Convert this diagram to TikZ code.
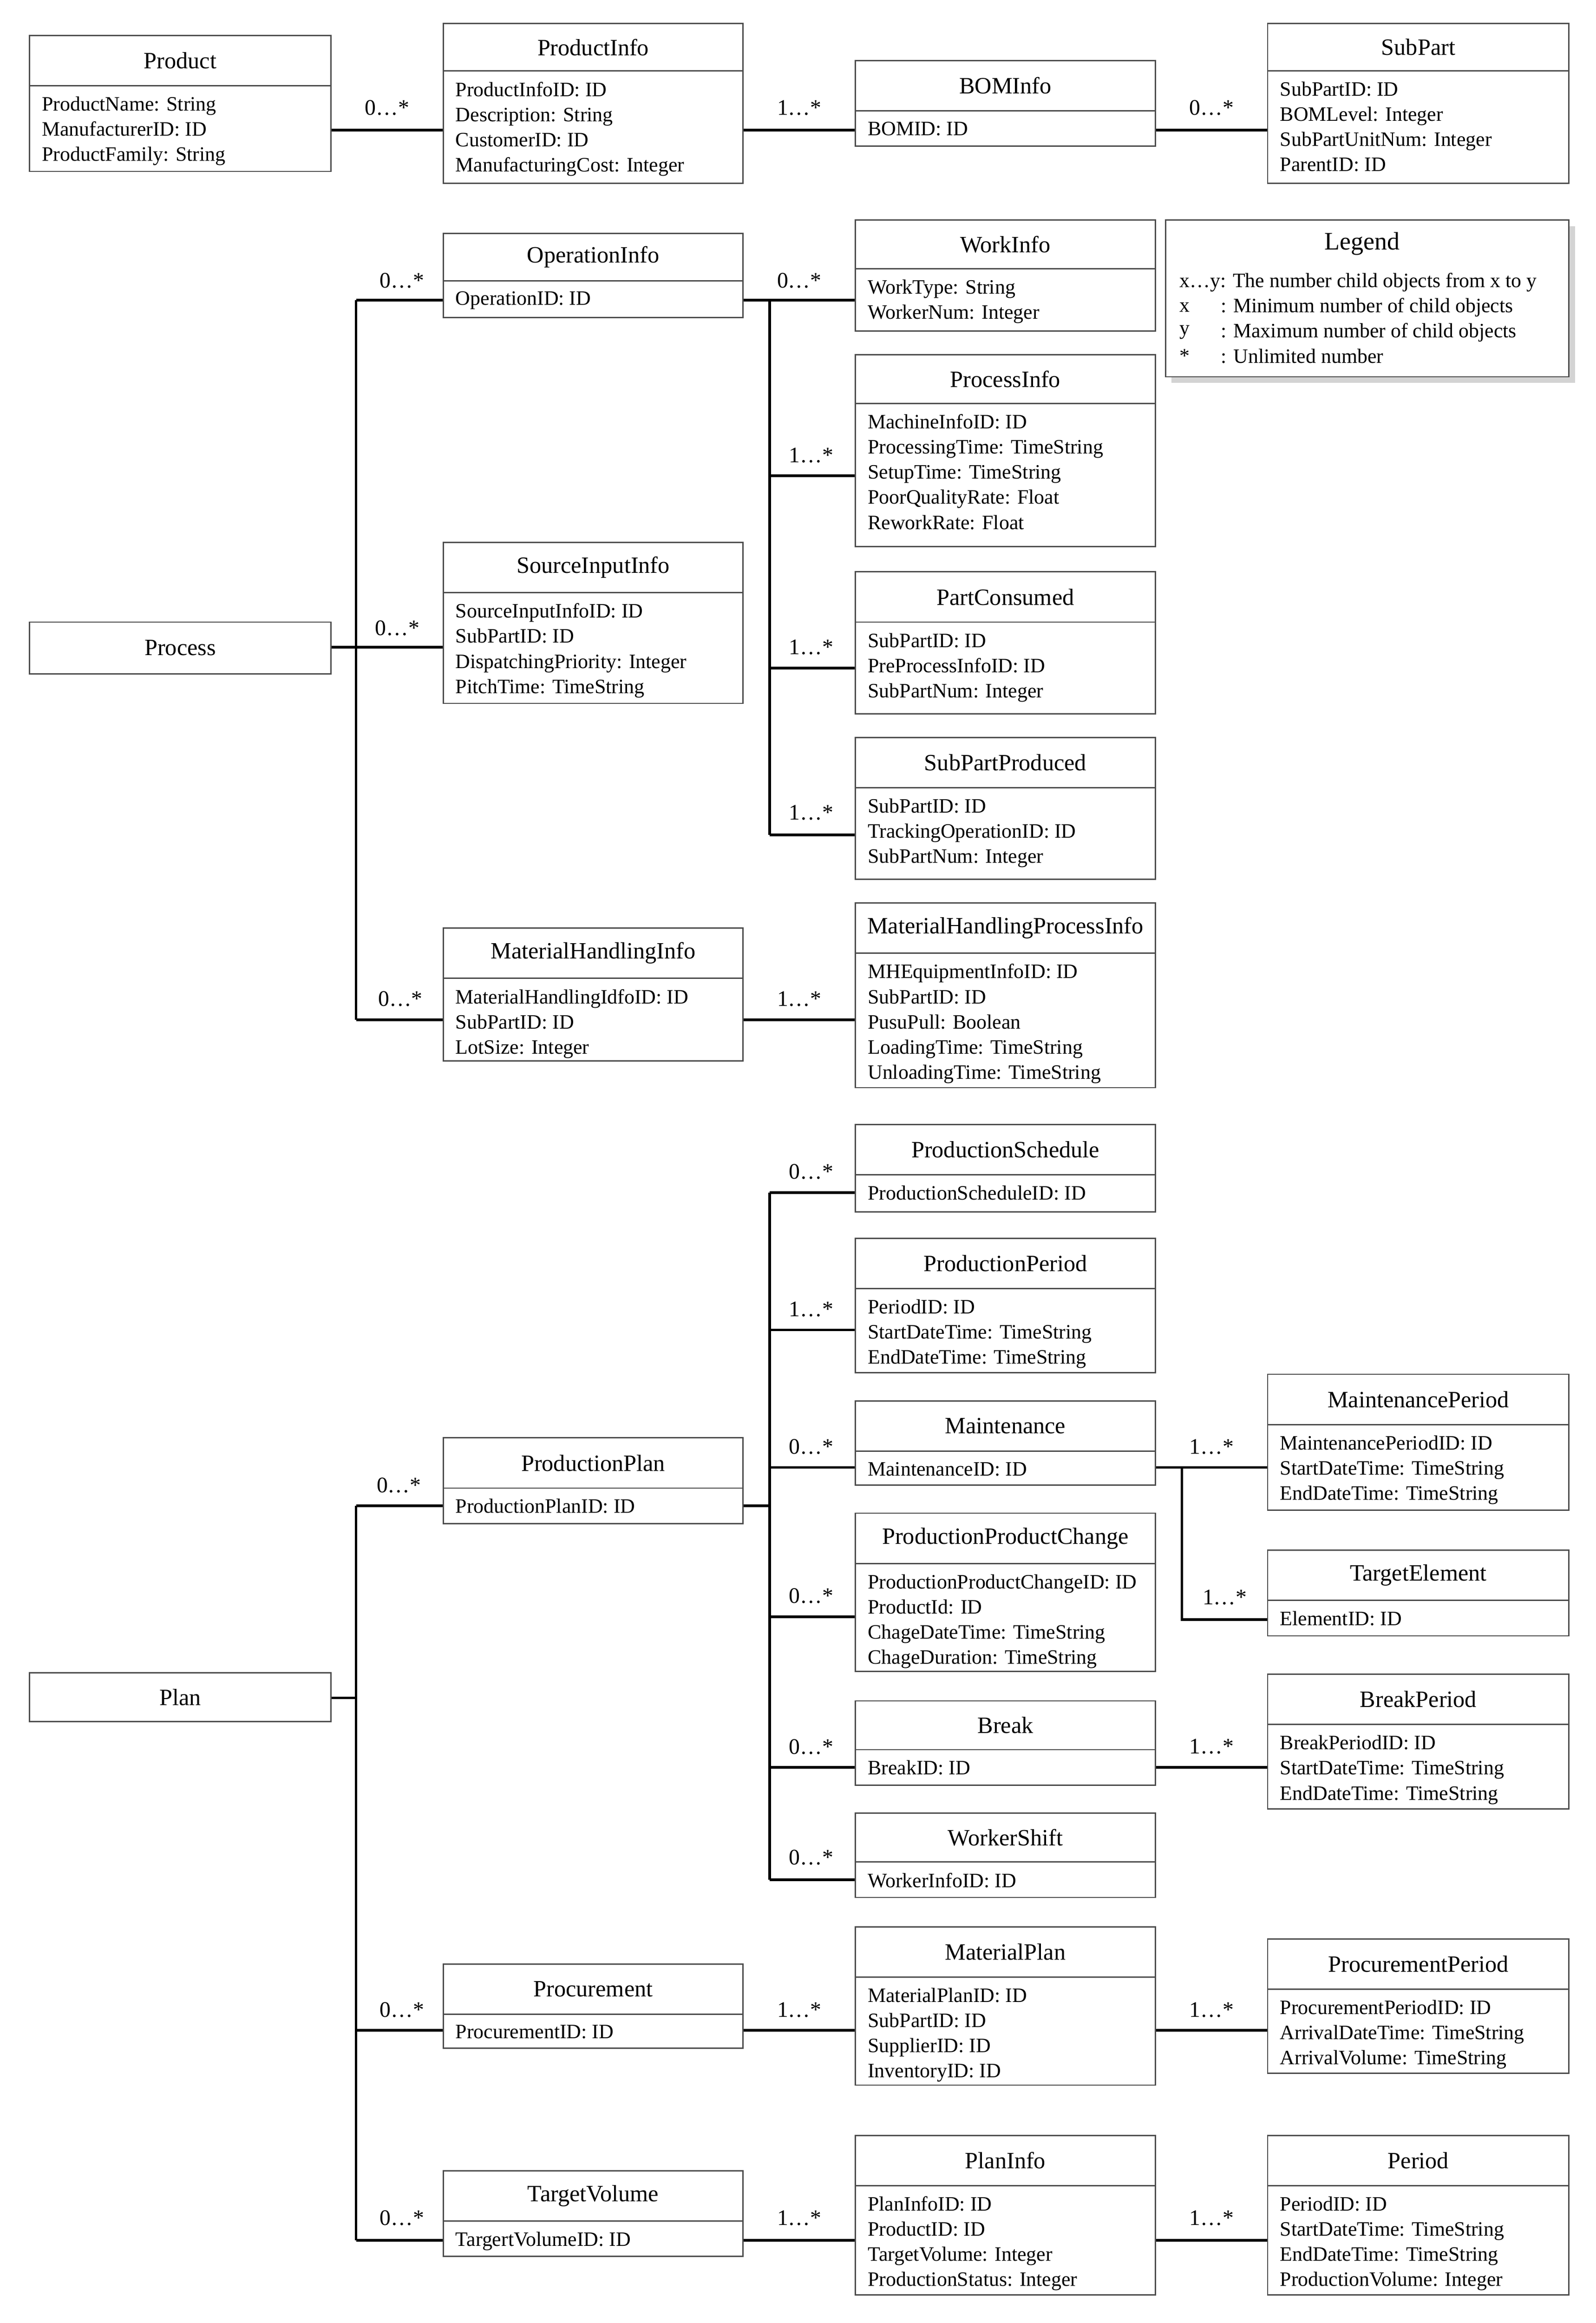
\documentclass[tikz,border=0pt]{standalone}
\usepackage{fontspec}
\setmainfont{Liberation Serif}
\usetikzlibrary{shadows}
\tikzset{
 cbox/.style={draw=black!70,line width=0.45pt,inner sep=0pt,fill=white},
 ttl/.style={font=\fontsize{7.9}{9}\selectfont,inner sep=0pt},
 att/.style={font=\fontsize{6.9}{8.5}\selectfont,align=left,inner sep=0pt},
 conn/.style={line width=0.9pt},
 lab/.style={font=\fontsize{7.5}{9}\selectfont,inner sep=0pt},
 sep/.style={line width=0.45pt,draw=black!70}
}
\newcommand\cls[8]{%
 \node[cbox, minimum width={(#4-#2)*0.5}, minimum height={(#6-#3)*0.5}] (#1) at ({(#2+#4)/2},{-(#3+#6)/2}) {};
 \draw[sep] (#2,-#5) -- (#4,-#5);
 \node[ttl] (#1-t) at ({(#2+#4)/2},{-(#3+#5)/2}) {#7};
 \node[att,anchor=north west] (#1-a) at (#2+8,-#5-7) {#8};
}
\begin{document}
\begin{tikzpicture}[x=0.5pt,y=0.5pt]
\useasboundingbox (0,0) rectangle (1080,-1572);
% top row
\cls{Product}{20}{24}{224}{58}{116}{Product}{ProductName: String\\ManufacturerID: ID\\ProductFamily: String}
\cls{ProductInfo}{300}{16}{503}{48}{124}{ProductInfo}{ProductInfoID: ID\\Description: String\\CustomerID: ID\\ManufacturingCost: Integer}
\cls{BOMInfo}{579}{41}{782}{75}{99}{BOMInfo}{BOMID: ID}
\cls{SubPart}{858}{16}{1062}{48}{124}{SubPart}{SubPartID: ID\\BOMLevel: Integer\\SubPartUnitNum: Integer\\ParentID: ID}
\coordinate (r1) at (0,-88);
\draw[conn] (Product.east |- r1) -- (ProductInfo.west |- r1);
\draw[conn] (ProductInfo.east |- r1) -- (BOMInfo.west |- r1);
\draw[conn] (BOMInfo.east |- r1) -- (SubPart.west |- r1);
\node[lab] (l1) at (262,-73) {0\ldots*};
\node[lab] (l2) at (541,-73) {1\ldots*};
\node[lab] (l3) at (820,-73) {0\ldots*};
% legend
\node[cbox,drop shadow={shadow xshift=2pt,shadow yshift=-2pt,opacity=0.35}, minimum width={273*0.5}, minimum height={106*0.5}] (Legend) at (925.5,-202) {};
\node[ttl,font=\fontsize{8.5}{10}\selectfont] (Legend-t) at (922,-165) {Legend};
\node[att,anchor=west] (lg1) at (798,-191) {x\ldots y: The number child objects from x to y};
\node[att,anchor=west] (lg2a) at (798,-208) {x};
\node[att,anchor=west] (lg2) at (826,-208) {: Minimum number of child objects};
\node[att,anchor=west] (lg3a) at (798,-225) {y};
\node[att,anchor=west] (lg3) at (826,-225) {: Maximum number of child objects};
\node[att,anchor=west] (lg4a) at (798,-241) {*};
\node[att,anchor=west] (lg4) at (826,-241) {: Unlimited number};
% process
\node[cbox,minimum width={204*0.5},minimum height={35*0.5}] (Process) at (122,-438.5) {};
\node[ttl] (Process-t) at (122,-438.5) {Process};
\cls{OperationInfo}{300}{158}{503}{190}{215}{OperationInfo}{OperationID: ID}
\cls{WorkInfo}{579}{149}{782}{182}{224}{WorkInfo}{WorkType: String\\WorkerNum: Integer}
\cls{ProcessInfo}{579}{240}{782}{273}{370}{ProcessInfo}{MachineInfoID: ID\\ProcessingTime: TimeString\\SetupTime: TimeString\\PoorQualityRate: Float\\ReworkRate: Float}
\cls{SourceInputInfo}{300}{367}{503}{401}{476}{SourceInputInfo}{SourceInputInfoID: ID\\SubPartID: ID\\DispatchingPriority: Integer\\PitchTime: TimeString}
\cls{PartConsumed}{579}{387}{782}{421}{483}{PartConsumed}{SubPartID: ID\\PreProcessInfoID: ID\\SubPartNum: Integer}
\cls{SubPartProduced}{579}{499}{782}{533}{595}{SubPartProduced}{SubPartID: ID\\TrackingOperationID: ID\\SubPartNum: Integer}
\cls{MHI}{300}{628}{503}{662}{718}{MaterialHandlingInfo}{MaterialHandlingIdfoID: ID\\SubPartID: ID\\LotSize: Integer}
\cls{MHPI}{579}{611}{782}{645}{736}{MaterialHandlingProcessInfo}{MHEquipmentInfoID: ID\\SubPartID: ID\\PusuPull: Boolean\\LoadingTime: TimeString\\UnloadingTime: TimeString}
\coordinate (pa) at (241,-203); \coordinate (pb) at (241,-438); \coordinate (pc) at (241,-690);
\draw[conn] (Process.east |- pb) -- (pb);
\draw[conn] (pa) -- (pc);
\draw[conn] (pa) -- (pa -| OperationInfo.west);
\draw[conn] (pb) -- (pb -| SourceInputInfo.west);
\draw[conn] (pc) -- (pc -| MHI.west);
\node[lab] (l4) at (272,-190) {0\ldots*};
\node[lab] (l5) at (269,-425) {0\ldots*};
\node[lab] (l6) at (271,-676) {0\ldots*};
\coordinate (oa) at (521,-203); \coordinate (ob) at (521,-322); \coordinate (oc) at (521,-452); \coordinate (od) at (521,-565);
\draw[conn] (OperationInfo.east |- oa) -- (oa);
\draw[conn] (oa) -- (od);
\draw[conn] (oa) -- (oa -| WorkInfo.west);
\draw[conn] (ob) -- (ob -| ProcessInfo.west);
\draw[conn] (oc) -- (oc -| PartConsumed.west);
\draw[conn] (od) -- (od -| SubPartProduced.west);
\node[lab] (l7) at (541,-190) {0\ldots*};
\node[lab] (l8) at (549,-308) {1\ldots*};
\node[lab] (l9) at (549,-438) {1\ldots*};
\node[lab] (l10) at (549,-550) {1\ldots*};
\draw[conn] (MHI.east |- pc) -- (MHPI.west |- pc);
\node[lab] (l11) at (541,-676) {1\ldots*};
% plan
\node[cbox,minimum width={204*0.5},minimum height={33*0.5}] (Plan) at (122,-1148.5) {};
\node[ttl] (Plan-t) at (122,-1148.5) {Plan};
\cls{ProductionPlan}{300}{973}{503}{1007}{1031}{ProductionPlan}{ProductionPlanID: ID}
\cls{Procurement}{300}{1329}{503}{1363}{1386}{Procurement}{ProcurementID: ID}
\cls{TargetVolume}{300}{1469}{503}{1503}{1527}{TargetVolume}{TargertVolumeID: ID}
\cls{ProductionSchedule}{579}{761}{782}{795}{820}{ProductionSchedule}{ProductionScheduleID: ID}
\cls{ProductionPeriod}{579}{838}{782}{872}{929}{ProductionPeriod}{PeriodID: ID\\StartDateTime: TimeString\\EndDateTime: TimeString}
\cls{Maintenance}{579}{948}{782}{982}{1005}{Maintenance}{MaintenanceID: ID}
\cls{PPC}{579}{1024}{782}{1058}{1131}{ProductionProductChange}{ProductionProductChangeID: ID\\ProductId: ID\\ChageDateTime: TimeString\\ChageDuration: TimeString}
\cls{Break}{579}{1151}{782}{1184}{1208}{Break}{BreakID: ID}
\cls{WorkerShift}{579}{1227}{782}{1260}{1284}{WorkerShift}{WorkerInfoID: ID}
\cls{MaintenancePeriod}{858}{930}{1062}{964}{1022}{MaintenancePeriod}{MaintenancePeriodID: ID\\StartDateTime: TimeString\\EndDateTime: TimeString}
\cls{TargetElement}{858}{1049}{1062}{1083}{1107}{TargetElement}{ElementID: ID}
\cls{BreakPeriod}{858}{1133}{1062}{1167}{1224}{BreakPeriod}{BreakPeriodID: ID\\StartDateTime: TimeString\\EndDateTime: TimeString}
\cls{MaterialPlan}{579}{1304}{782}{1338}{1411}{MaterialPlan}{MaterialPlanID: ID\\SubPartID: ID\\SupplierID: ID\\InventoryID: ID}
\cls{ProcurementPeriod}{858}{1312}{1062}{1346}{1403}{ProcurementPeriod}{ProcurementPeriodID: ID\\ArrivalDateTime: TimeString\\ArrivalVolume: TimeString}
\cls{PlanInfo}{579}{1445}{782}{1479}{1553}{PlanInfo}{PlanInfoID: ID\\ProductID: ID\\TargetVolume: Integer\\ProductionStatus: Integer}
\cls{Period}{858}{1445}{1062}{1479}{1553}{Period}{PeriodID: ID\\StartDateTime: TimeString\\EndDateTime: TimeString\\ProductionVolume: Integer}
\coordinate (qa) at (241,-1019); \coordinate (qb) at (241,-1149); \coordinate (qc) at (241,-1374); \coordinate (qd) at (241,-1516);
\draw[conn] (Plan.east |- qb) -- (qb);
\draw[conn] (qa) -- (qd);
\draw[conn] (qa) -- (qa -| ProductionPlan.west);
\draw[conn] (qc) -- (qc -| Procurement.west);
\draw[conn] (qd) -- (qd -| TargetVolume.west);
\node[lab] (l12) at (270,-1005) {0\ldots*};
\node[lab] (l13) at (272,-1360) {0\ldots*};
\node[lab] (l14) at (272,-1501) {0\ldots*};
\coordinate (sa) at (521,-807); \coordinate (sb) at (521,-900); \coordinate (sc) at (521,-993);
\coordinate (sd) at (521,-1094); \coordinate (se) at (521,-1196); \coordinate (sf) at (521,-1272); \coordinate (sp) at (521,-1019);
\draw[conn] (ProductionPlan.east |- sp) -- (sp);
\draw[conn] (sa) -- (sf);
\draw[conn] (sa) -- (sa -| ProductionSchedule.west);
\draw[conn] (sb) -- (sb -| ProductionPeriod.west);
\draw[conn] (sc) -- (sc -| Maintenance.west);
\draw[conn] (sd) -- (sd -| PPC.west);
\draw[conn] (se) -- (se -| Break.west);
\draw[conn] (sf) -- (sf -| WorkerShift.west);
\node[lab] (l15) at (549,-793) {0\ldots*};
\node[lab] (l16) at (549,-886) {1\ldots*};
\node[lab] (l17) at (549,-979) {0\ldots*};
\node[lab] (l18) at (549,-1080) {0\ldots*};
\node[lab] (l19) at (549,-1182) {0\ldots*};
\node[lab] (l20) at (549,-1257) {0\ldots*};
\coordinate (ma) at (800,-993); \coordinate (mb) at (800,-1096);
\draw[conn] (Maintenance.east |- ma) -- (MaintenancePeriod.west |- ma);
\draw[conn] (ma) -- (mb) -- (mb -| TargetElement.west);
\node[lab] (l21) at (820,-979) {1\ldots*};
\node[lab] (l22) at (829,-1081) {1\ldots*};
\draw[conn] (Break.east |- se) -- (BreakPeriod.west |- se);
\node[lab] (l23) at (820,-1182) {1\ldots*};
\draw[conn] (Procurement.east |- qc) -- (MaterialPlan.west |- qc);
\node[lab] (l24) at (541,-1360) {1\ldots*};
\draw[conn] (MaterialPlan.east |- qc) -- (ProcurementPeriod.west |- qc);
\node[lab] (l25) at (820,-1360) {1\ldots*};
\draw[conn] (TargetVolume.east |- qd) -- (PlanInfo.west |- qd);
\node[lab] (l26) at (541,-1501) {1\ldots*};
\draw[conn] (PlanInfo.east |- qd) -- (Period.west |- qd);
\node[lab] (l27) at (820,-1501) {1\ldots*};
\end{tikzpicture}
\end{document}
